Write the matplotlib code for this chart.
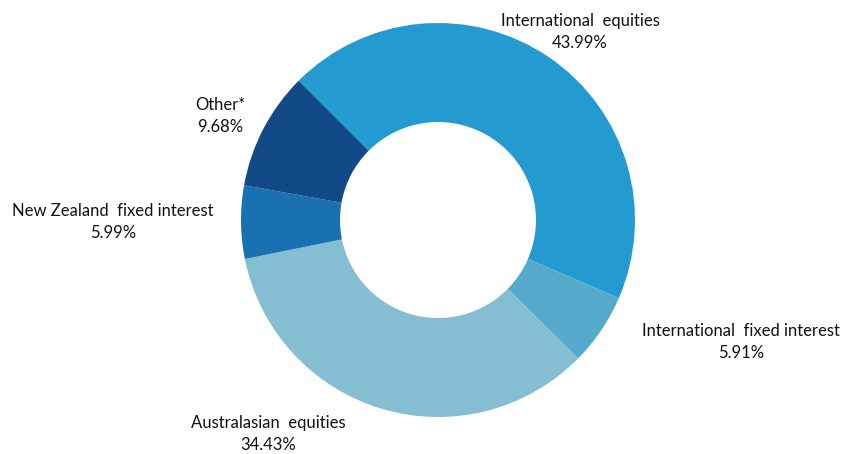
import matplotlib
matplotlib.use("Agg")
import matplotlib.pyplot as plt

labels = ["International  equities", "International  fixed interest",
          "Australasian  equities", "New Zealand  fixed interest", "Other*"]
shares = [43.99, 5.91, 34.43, 5.99, 9.68]
colors = ["#239bd0", "#55aacb", "#85bdd2", "#1a71b1", "#124a88"]

# where each label sits (pixel coords, y measured from the bottom)
label_xy = [(580, 422), (741, 112), (268, 20), (113, 232), (220, 338)]

fig = plt.figure(figsize=(8.46, 4.54), dpi=100)
ax = fig.add_axes([0, 0, 1, 1])

ax.pie(shares, colors=colors, startangle=135, counterclock=False,
       center=(438, 234), radius=197,
       wedgeprops=dict(width=99, linewidth=0), frame=True)

for name, val, (x, y) in zip(labels, shares, label_xy):
    ax.text(x, y, f"{name}\n{val:.2f}%", ha="center", va="center",
            fontsize=12, family="Lato", color="#111111", linespacing=1.5)

ax.set_xlim(0, 846)
ax.set_ylim(0, 454)
ax.set_aspect("equal")
ax.axis("off")

fig.savefig("out.png", dpi=100)
